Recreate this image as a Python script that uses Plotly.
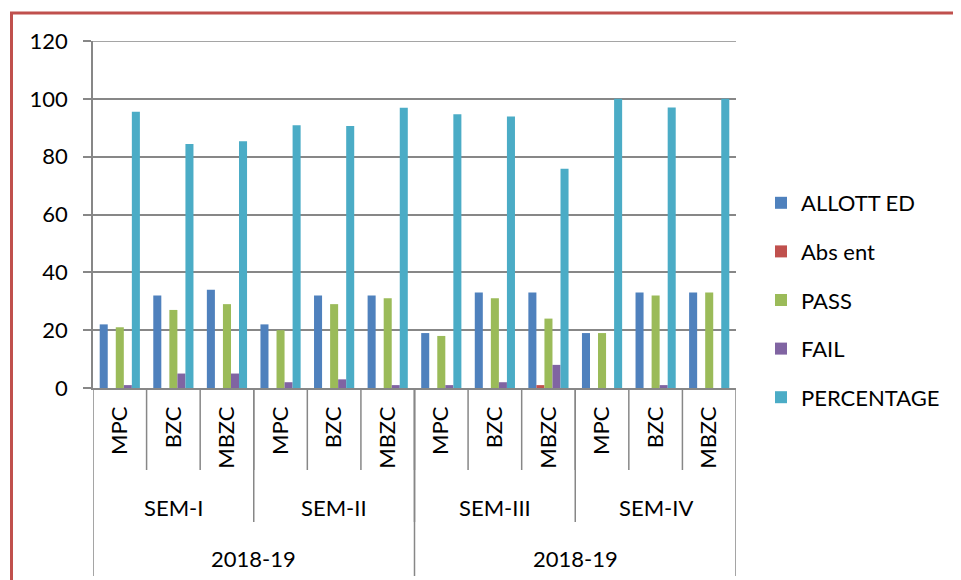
import plotly.graph_objects as go

# data
years = ["2018-19", "2018-19"]
year_sizes = [6, 6]
semesters = ["SEM-I", "SEM-II", "SEM-III", "SEM-IV"]
sem_sizes = [3, 3, 3, 3]
courses = ["MPC", "BZC", "MBZC", "MPC", "BZC", "MBZC",
           "MPC", "BZC", "MBZC", "MPC", "BZC", "MBZC"]

allotted = [22, 32, 34, 22, 32, 32, 19, 33, 33, 19, 33, 33]
absent = [0, 0, 0, 0, 0, 0, 0, 0, 1, 0, 0, 0]
passed = [21, 27, 29, 20, 29, 31, 18, 31, 24, 19, 32, 33]
failed = [1, 5, 5, 2, 3, 1, 1, 2, 8, 0, 1, 0]
percentage = [95.5, 84.4, 85.3, 90.9, 90.6, 96.9, 94.7, 93.9, 75.8, 100, 97.0, 100]

series = [("ALLOTT ED", allotted, "#4F81BD"),
          ("Abs ent", absent, "#C0504D"),
          ("PASS", passed, "#9BBB59"),
          ("FAIL", failed, "#8064A2"),
          ("PERCENTAGE", percentage, "#4BACC6")]

idx = list(range(len(courses)))
FONT = "Lato"
GRID = "#878787"

# page pixel layout (plot area 93..736 x, 41..388 y); the page body adds 8px
OFF = 8
L, R, T, B = 93, 736, 41, 388
W, H = 961, 580
def yp(px):
    return (B - px) / (B - T)
def xp(px):
    return (px - L) / (R - L)

fig = go.Figure()
for i, (name, vals, col) in enumerate(series):
    fig.add_trace(go.Bar(x=idx, y=vals, name=name, marker_color=col,
                         marker_line_width=0, legendgroup=str(i)))

line = dict(color=GRID, width=1.5)
shapes = []
# top gridline at 120
shapes.append(dict(type="line", xref="paper", yref="y", x0=0, x1=1, y0=120, y1=120,
                   line=line, layer="below"))
# course dividers
for k in range(len(courses) - 1):
    shapes.append(dict(type="line", xref="x", yref="paper", x0=k + 0.5, x1=k + 0.5,
                       y0=0, y1=yp(470), line=line))
# semester dividers
pos = -0.5
sem_centers = []
for s in sem_sizes:
    sem_centers.append(pos + s / 2)
    pos += s
    if pos < len(courses) - 0.5:
        shapes.append(dict(type="line", xref="x", yref="paper", x0=pos, x1=pos,
                           y0=0, y1=yp(522), line=line))
# year dividers
pos = -0.5
year_centers = []
shapes.append(dict(type="line", xref="x", yref="paper", x0=pos, x1=pos,
                   y0=0, y1=yp(576), line=line))
for s in year_sizes:
    year_centers.append(pos + s / 2)
    pos += s
    shapes.append(dict(type="line", xref="x", yref="paper", x0=pos, x1=pos,
                       y0=0, y1=yp(576), line=line))
# red frame
shapes.append(dict(type="rect", xref="paper", yref="paper",
                   x0=xp(11.5), x1=xp(975), y0=yp(595), y1=yp(13),
                   line=dict(color="#C0504D", width=3)))

annotations = []
for c, s in zip(sem_centers, semesters):
    annotations.append(dict(x=c, y=yp(507), xref="x", yref="paper", text=s,
                            showarrow=False, yanchor="middle",
                            font=dict(family=FONT, size=22, color="black")))
for c, s in zip(year_centers, years):
    annotations.append(dict(x=c, y=yp(558), xref="x", yref="paper", text=s,
                            showarrow=False, yanchor="middle",
                            font=dict(family=FONT, size=22, color="black")))

fig.update_layout(
    width=W - OFF, height=H - OFF, autosize=False,
    margin=dict(l=L - OFF, r=W - R, t=T - OFF, b=H - B, pad=0),
    paper_bgcolor="white", plot_bgcolor="white",
    barmode="group", bargap=0.25, bargroupgap=0,
    font=dict(family=FONT, size=22, color="black"),
    xaxis=dict(range=[-0.5, len(courses) - 0.5], tickvals=idx, ticktext=courses,
               tickangle=-90, ticks="", showgrid=False, showline=True,
               linecolor=GRID, linewidth=1.5, ticklabelstandoff=8,
               tickfont=dict(family=FONT, size=22, color="black")),
    yaxis=dict(range=[0, 120], dtick=20, showgrid=True, gridcolor=GRID, gridwidth=1.5,
               showline=True, linecolor=GRID, linewidth=1.5, ticks="outside",
               ticklen=8, tickcolor=GRID, tickwidth=1.5, zeroline=False,
               ticklabelstandoff=11,
               tickfont=dict(family=FONT, size=22, color="black")),
    legend=dict(x=xp(761), y=yp(300), xanchor="left", yanchor="middle",
                traceorder="grouped", tracegroupgap=17,
                font=dict(family=FONT, size=22, color="black"),
                bgcolor="rgba(0,0,0,0)"),
    shapes=shapes, annotations=annotations,
)

fig.write_html("out.html")
